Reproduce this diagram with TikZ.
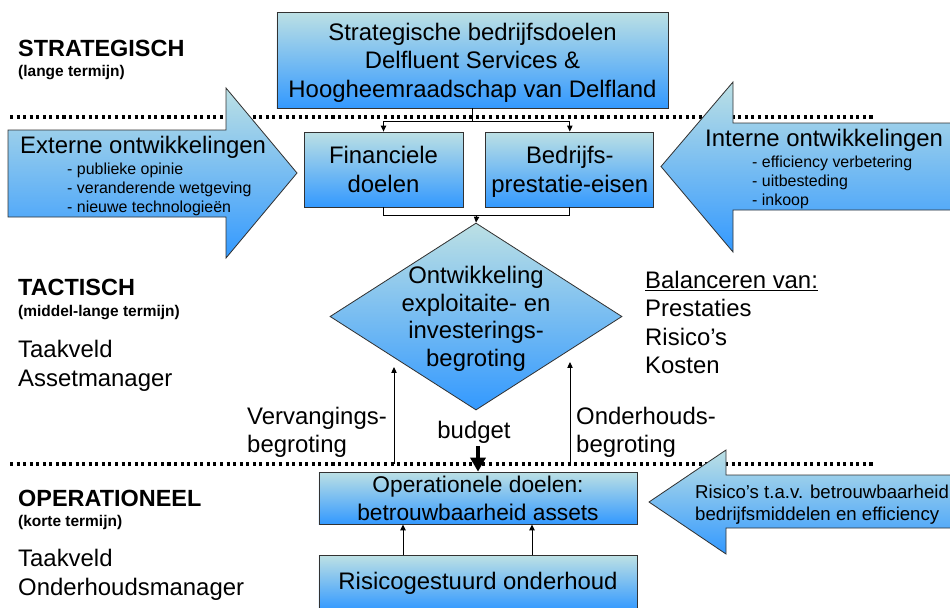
\documentclass[tikz,border=0pt]{standalone}
\usepackage{fontspec}
\setmainfont{Liberation Sans}
\usetikzlibrary{shapes.geometric,arrows.meta,calc,positioning}

\definecolor{blokboven}{RGB}{188,224,228}
\definecolor{blokonder}{RGB}{51,153,255}
\definecolor{bloklijn}{RGB}{50,50,50}

\newcommand{\groot}{\fontsize{20.4}{24.2}\selectfont}
\newcommand{\ruittxt}{\fontsize{20.4}{23.5}\selectfont}
\newcommand{\lijst}{\fontsize{13.6}{16.3}\selectfont}
\newcommand{\risicotxt}{\fontsize{15.9}{19.3}\selectfont}
\newcommand{\doeltxt}{\fontsize{19.4}{23.6}\selectfont}
\newcommand{\niveau}{\bfseries\fontsize{20}{24}\selectfont}
\newcommand{\termijn}{\bfseries\fontsize{13.2}{16}\selectfont}
\newcommand{\taak}{\fontsize{20.4}{24.7}\selectfont}

\tikzset{
  blok/.style={draw=bloklijn, line width=0.7pt, top color=blokboven,
    bottom color=blokonder, inner sep=0pt, align=center, font=\groot,
    text depth=0pt},
  ruit/.style={blok, diamond},
  pijl/.style={draw=bloklijn, line width=0.7pt, top color=blokboven,
    bottom color=blokonder},
  tekst/.style={inner sep=0pt, align=left, anchor=west},
  stippel/.style={line width=2.6pt, dash pattern=on 2.6pt off 3pt},
  verbinding/.style={line width=0.8pt, -{Triangle[length=5pt,width=4.5pt]}},
  budgetpijl/.style={line width=2.6pt, -{Triangle[length=12pt,width=13pt]}},
}

\begin{document}
\begin{tikzpicture}[x=0.03cm, y=-0.03cm]
  \useasboundingbox (0,0) rectangle (950,607);

  % grenzen tussen de niveaus
  \draw[stippel] (10,117) -- (873,117);
  \draw[stippel] (10,464) -- (873,464);

  % grote pijlen
  \path[pijl] (8,130) -- (226,130) -- (226,88) -- (297,173) -- (226,258)
    -- (226,217) -- (8,217) -- cycle;
  \path[pijl] (953,123) -- (733,123) -- (733,82) -- (661,166.5) -- (733,252)
    -- (733,210) -- (953,210);
  \path[pijl] (953,475) -- (726,475) -- (726,450) -- (649,502) -- (726,554)
    -- (726,528) -- (953,528);

  \node[tekst, font=\groot] (extern) at (20,147.5) {Externe ontwikkelingen};
  \node[tekst, font=\lijst] (externlijst) at (67,189)
    {- publieke opinie\\- veranderende wetgeving\\- nieuwe technologieën};
  \node[tekst, font=\groot] (intern) at (705,140) {Interne ontwikkelingen};
  \node[tekst, font=\lijst] (internlijst) at (752,182)
    {- efficiency verbetering\\- uitbesteding\\- inkoop};
  \node[tekst, font=\risicotxt] (risico) at (695,504.5)
    {Risico’s t.a.v. betrouwbaarheid\\bedrijfsmiddelen en efficiency};

  % blokken
  \node[blok, minimum width=11.73cm, minimum height=2.88cm] (strat) at (472.5,60)
    {Strategische bedrijfsdoelen\\Delfluent Services \&\\Hoogheemraadschap van Delfland};
  \node[blok, minimum width=4.77cm, minimum height=2.25cm] (fin) at (383.5,169.5)
    {Financiele\\doelen};
  \node[blok, minimum width=5.04cm, minimum height=2.25cm, right=0.66cm of fin] (bedr)
    {Bedrijfs-\\prestatie-eisen};
  \node[ruit, minimum width=8.76cm, minimum height=5.61cm,
    label={[font=\ruittxt, align=center, text depth=0pt]center:Ontwikkeling\\exploitaite- en\\investerings-\\begroting}]
    (ontw) at (476,316.5) {};
  \node[blok, font=\doeltxt, minimum width=9.54cm, minimum height=1.56cm] (ops) at (478,498)
    {Operationele doelen:\\betrouwbaarheid assets};
  \node[blok, minimum width=9.54cm, minimum height=1.62cm, text depth=2.6pt,
    below=0.93cm of ops] (risk) {Risicogestuurd onderhoud};

  % niveaus links
  \node[tekst, font=\niveau] (strategisch) at (18,48.5) {STRATEGISCH};
  \node[tekst, font=\termijn] (langetermijn) at (18,73) {(lange termijn)};
  \node[tekst, font=\niveau] (tactisch) at (18,287.5) {TACTISCH};
  \node[tekst, font=\termijn] (middeltermijn) at (18,313) {(middel-lange termijn)};
  \node[tekst, font=\taak] (assetmanager) at (18,365.5) {Taakveld\\Assetmanager};
  \node[tekst, font=\niveau] (operationeel) at (18,498) {OPERATIONEEL};
  \node[tekst, font=\termijn] (kortetermijn) at (18,522) {(korte termijn)};
  \node[tekst, font=\taak] (onderhoudsmanager) at (18,574.5) {Taakveld\\Onderhoudsmanager};

  \node[tekst, font=\groot] (balanceren) at (645,322.5)
    {\underline{Balanceren van:}\\Prestaties\\Risico’s\\Kosten};
  \node[tekst, font=\groot] (vervanging) at (247,432.5) {Vervangings-\\begroting};
  \node[tekst, font=\groot] (onderhoud) at (576,432.5) {Onderhouds-\\begroting};
  \node[inner sep=0pt, font=\groot] (budget) at (474,432.3) {budget};

  % verbindingen
  \draw[verbinding] (strat.south) -- ++(0,13) -| (fin.north);
  \draw[verbinding] (strat.south) -- ++(0,13) -| (bedr.north);
  \draw[line width=0.8pt] (fin.south) -- ++(0,8) -| (bedr.south);
  \coordinate (samen) at ($(fin.south)!0.5!(bedr.south) + (0,8)$);
  \draw[verbinding] (samen) -- (ontw.north);

  \coordinate (vervangonder) at (394,464);
  \coordinate (vervangboven) at (394,367);
  \coordinate (onderhoudonder) at (570,464);
  \coordinate (onderhoudboven) at (570,362);
  \draw[verbinding] (vervangonder) -- (vervangboven);
  \draw[verbinding] (onderhoudonder) -- (onderhoudboven);

  \coordinate (budgetboven) at (478,446);
  \draw[budgetpijl] (budgetboven) -- (ops.north);

  \draw[verbinding] ($(risk.north)+(-75,0)$) -- ($(ops.south)+(-75,0)$);
  \draw[verbinding] ($(risk.north)+(54,0)$) -- ($(ops.south)+(54,0)$);
\end{tikzpicture}
\end{document}
